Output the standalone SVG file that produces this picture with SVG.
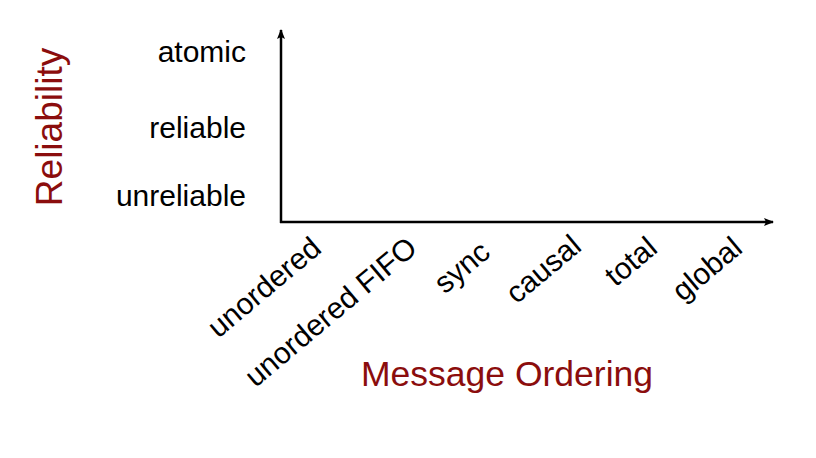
<svg xmlns="http://www.w3.org/2000/svg" width="816" height="458" viewBox="0 0 816 458">
<style>
.lbl{font-family:"Liberation Sans",Arial,sans-serif;font-size:30px;fill:#000}
.tick{font-family:"Liberation Sans",Arial,sans-serif;font-size:30px;fill:#000;text-anchor:end}
.title{font-family:"Liberation Sans",Arial,sans-serif;fill:#8B0D0D}
.axis{stroke:#000;stroke-width:2.5;fill:none}
</style>
<defs>
<marker id="arr" viewBox="0 0 10 8" refX="9" refY="4" markerWidth="10" markerHeight="8" markerUnits="userSpaceOnUse" orient="auto">
<path d="M0,0 L10,4 L0,8 L2,4 Z" fill="#000"/>
</marker>
</defs>
<rect width="816" height="458" fill="#fff"/>
<g id="connectors">
<path class="axis" d="M281,223 L281,30" marker-end="url(#arr)"/>
<path class="axis" d="M280,222 L773,222" marker-end="url(#arr)"/>
</g>
<g id="y-labels">
<text class="lbl" x="246" y="62" text-anchor="end">atomic</text>
<text class="lbl" x="246" y="138" text-anchor="end">reliable</text>
<text class="lbl" x="246" y="206" text-anchor="end">unreliable</text>
</g>
<g id="x-labels">
<text class="tick" transform="translate(323,251) rotate(-40)">unordered</text>
<text class="tick" transform="translate(419,251) rotate(-40)">unordered FIFO</text>
<text class="tick" transform="translate(492,255) rotate(-40)">sync</text>
<text class="tick" transform="translate(583,249) rotate(-40)">causal</text>
<text class="tick" transform="translate(659,251) rotate(-40)">total</text>
<text class="tick" transform="translate(744,251) rotate(-40)">global</text>
</g>
<g id="titles">
<text class="title" x="361" y="386" font-size="35.5">Message Ordering</text>
<text class="title" transform="translate(62,127) rotate(-90)" text-anchor="middle" font-size="37">Reliability</text>
</g>
</svg>
